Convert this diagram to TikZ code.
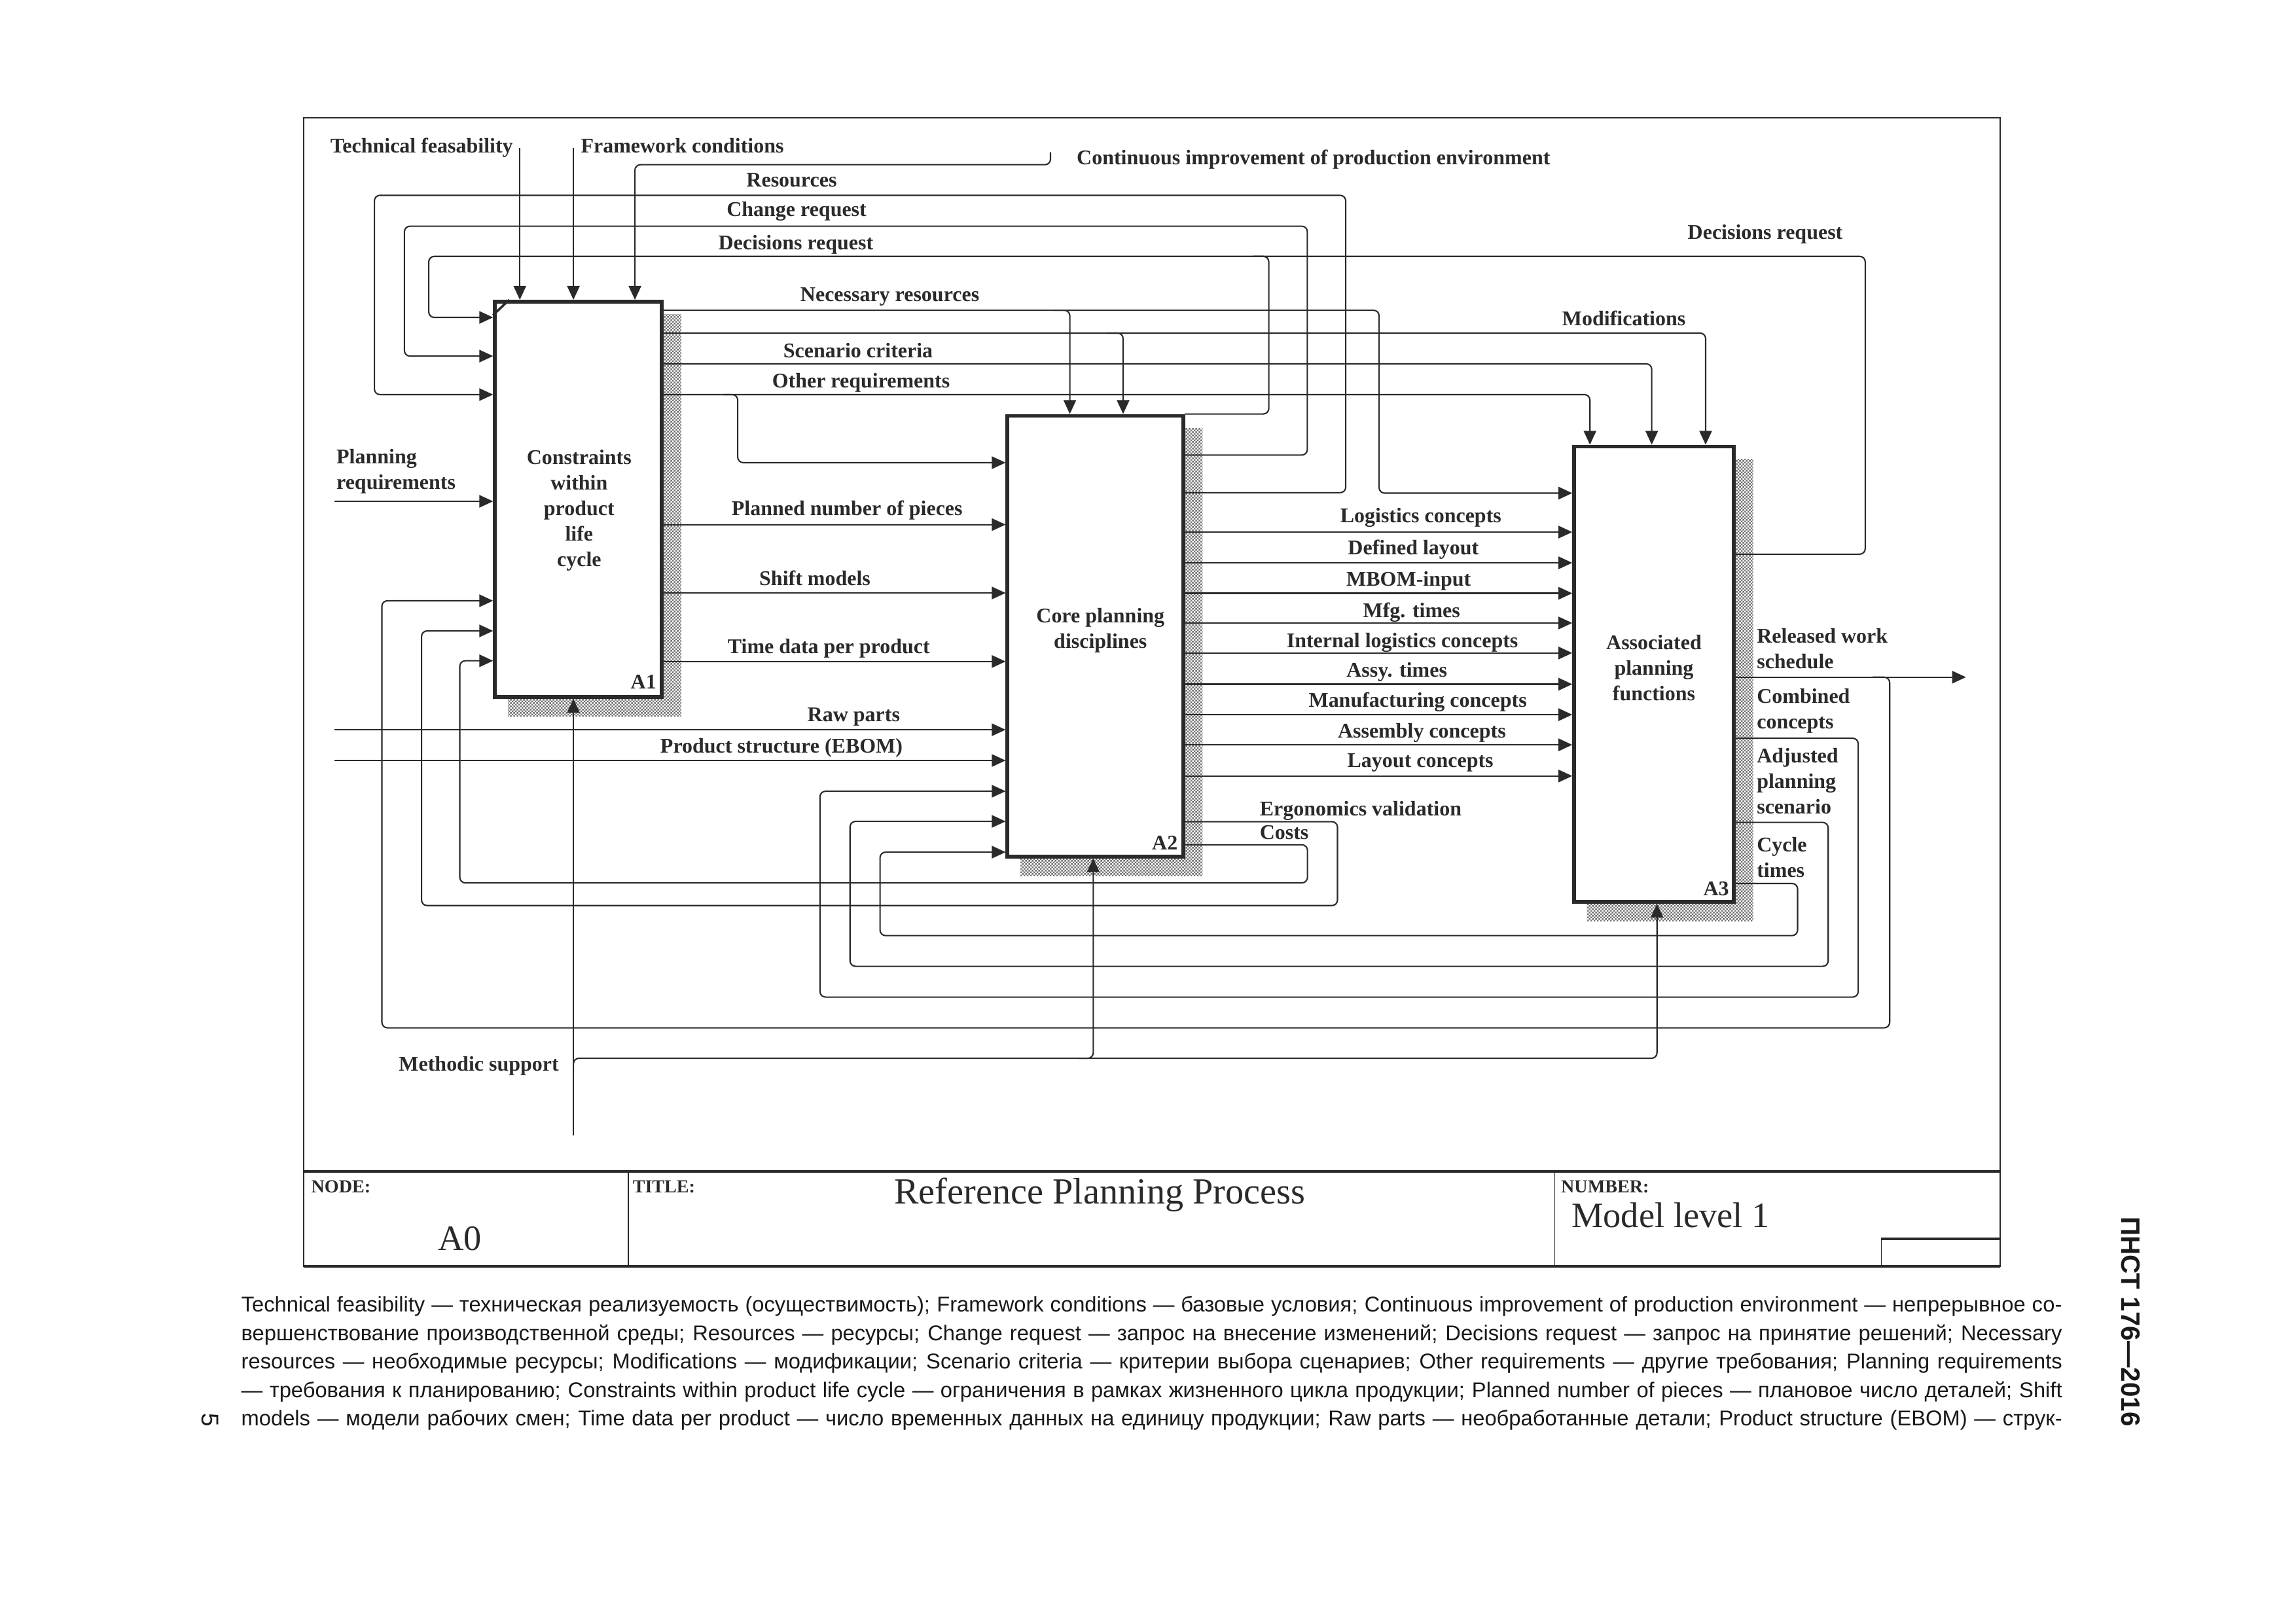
\documentclass[tikz,border=0pt]{standalone}
\usepackage{fontspec}
\setmainfont{Liberation Serif}
\newfontfamily\notefont{Liberation Sans}
\usepackage{tikz}
\usetikzlibrary{arrows.meta, fit, backgrounds, patterns}
\definecolor{ink}{HTML}{2A2A2A}
\pgfdeclarepatternformonly{checker}{\pgfqpoint{0pt}{0pt}}{\pgfqpoint{1.4pt}{1.4pt}}{\pgfqpoint{1.4pt}{1.4pt}}{%
  \pgfpathrectangle{\pgfqpoint{0pt}{0pt}}{\pgfqpoint{0.7pt}{0.7pt}}%
  \pgfpathrectangle{\pgfqpoint{0.7pt}{0.7pt}}{\pgfqpoint{0.7pt}{0.7pt}}%
  \pgfusepath{fill}}
\newcommand{\lblfont}{\bfseries\fontsize{9.1}{11.1}\selectfont}
\tikzstyle{flow}=[draw=ink,line width=0.6pt,rounded corners=2.4pt]
\tikzstyle{arrow}=[flow,-{Triangle[length=6pt,width=5.4pt]}]
\tikzstyle{procbox}=[draw=ink,line width=1.6pt,fill=white,inner sep=0pt]
\tikzstyle{shade}=[pattern=checker,pattern color=black!55]
\tikzstyle{lbl}=[font=\lblfont,text=ink,inner sep=0pt,text height=1.6ex,text depth=0.4ex]
\tikzstyle{mlbl}=[font=\lblfont,text=ink,inner sep=0pt,align=left,anchor=west]
\tikzstyle{btext}=[font=\lblfont,text=ink,inner sep=0pt,align=center]
\tikzstyle{note}=[font=\notefont\fontsize{9.3}{12.35}\selectfont,text=black!90,inner sep=0pt,anchor=base west]

\begin{document}
\begin{tikzpicture}[x=0.22372mm,y=-0.22372mm]
    \useasboundingbox (0,0) rectangle (1568,1108.5);

    % activity boxes
    \node[procbox,fit={(338,206)(452,476)}] (A1) {};
    \node[procbox,fit={(688,284)(808,585)}] (A2) {};
    \node[procbox,fit={(1075,305)(1184,616)}] (A3) {};

    \begin{scope}[on background layer]
        \fill[white] (0,0) rectangle (1568,1108.5);
        \fill[shade] ([shift={(10,10)}]A1.north west) rectangle ([shift={(12,12)}]A1.south east);
        \fill[shade] ([shift={(10,10)}]A2.north west) rectangle ([shift={(12,12)}]A2.south east);
        \fill[shade] ([shift={(10,10)}]A3.north west) rectangle ([shift={(12,12)}]A3.south east);
    \end{scope}
    \draw[ink,line width=1pt] (A1.north west) ++(0,10.5) -- ++(11,-10.5);

    \node[btext] (A1txt) at (395.5,348.5) {Constraints\\within\\product\\life\\cycle};
    \node[btext] (A2txt) at (751.5,430.5) {Core planning\\disciplines};
    \node[btext] (A3txt) at (1129.5,456) {Associated\\planning\\functions};
    \node[lbl] (A1no) at (439.5,466) {A1};
    \node[lbl] (A2no) at (795.5,576) {A2};
    \node[lbl] (A3no) at (1172,607.5) {A3};

    % frame and title block
    \draw[ink,line width=0.7pt] (207.4,80.5) rectangle (1366,865);
    \draw[ink,line width=1pt] (207.4,800.1) -- (1366,800.1);
    \draw[ink,line width=1pt] (207.4,865) -- (1366,865);
    \draw[ink,line width=0.4pt] (429.1,800.1) -- (429.1,865);
    \draw[ink,line width=0.4pt] (1061.9,800.1) -- (1061.9,865);
    \draw[ink,line width=1pt] (1284.7,846.2) -- (1366,846.2);
    \draw[ink,line width=0.4pt] (1284.7,846.2) -- (1284.7,865);
    \node[font=\bfseries\fontsize{8}{10}\selectfont,text=ink,inner sep=0pt,anchor=north west] (nodehd) at (212.3,806) {NODE:};
    \node[font=\bfseries\fontsize{8}{10}\selectfont,text=ink,inner sep=0pt,anchor=north west] (titlehd) at (431.8,806) {TITLE:};
    \node[font=\bfseries\fontsize{8}{10}\selectfont,text=ink,inner sep=0pt,anchor=north west] (numhd) at (1065.8,806) {NUMBER:};
    \node[font=\fontsize{15.5}{18}\selectfont,text=ink,inner sep=0pt] (nodeval) at (314,846) {A0};
    \node[font=\fontsize{16}{19}\selectfont,text=ink,inner sep=0pt] (titleval) at (751,816) {Reference Planning Process};
    \node[font=\fontsize{15.5}{18}\selectfont,text=ink,inner sep=0pt,anchor=west] (numval) at (1073,830) {Model level 1};

    % free ends
    \coordinate (techin) at (355,101);
    \coordinate (frameworkin) at (391.6,101);
    \coordinate (contin) at (717.4,104);
    \coordinate (planin) at (228.5,342.4);
    \coordinate (rawin) at (228.5,498.4);
    \coordinate (ebomin) at (228.5,519.4);
    \coordinate (methin) at (391.6,775.5);
    \coordinate (relout) at (1342.6,462.5);

    % controls and inputs of A1
    \draw[arrow] (techin) -- (techin |- A1.north);
    \draw[arrow] (frameworkin) -- (frameworkin |- A1.north);
    \draw[arrow] (contin) |- (433.6,112.5) -- (433.6,0 |- A1.north);
    \draw[arrow] (planin) -- (A1.west |- planin);
    \draw[arrow] (A2.east |- 0,336.5) -| (919,133.4) -| (255.7,269.5) -- (A1.west |- 0,269.5);
    \draw[arrow] (A2.east |- 0,310.8) -| (892.8,154.5) -| (276.2,243.2) -- (A1.west |- 0,243.2);
    \draw[arrow] (A3.east |- 0,378.5) -| (1273.8,175.1) -| (292.8,216.8) -- (A1.west |- 0,216.8);
    \draw[flow] (A2.north east) -| (866.5,175.1) -- (856,175.1);

    % outputs of A1
    \draw[arrow] (A1.east |- 0,211.9) -| (941.8,336.8) -- (A3.west |- 0,336.8);
    \draw[arrow] (720,211.9) -| (730.6,0 |- A2.north);
    \draw[arrow] (A1.east |- 0,227.5) -| (1164.8,0 |- A3.north);
    \draw[arrow] (756,227.5) -| (767,0 |- A2.north);
    \draw[arrow] (A1.east |- 0,248.5) -| (1128,0 |- A3.north);
    \draw[arrow] (A1.east |- 0,269.5) -| (1085.8,0 |- A3.north);
    \draw[arrow] (494,269.5) -| (503.8,316) -- (A2.west |- 0,316);
    \draw[arrow] (A1.east |- 0,358.3) -- (A2.west |- 0,358.3);
    \draw[arrow] (A1.east |- 0,405) -- (A2.west |- 0,405);
    \draw[arrow] (A1.east |- 0,451.8) -- (A2.west |- 0,451.8);
    \draw[arrow] (rawin) -- (A2.west |- rawin);
    \draw[arrow] (ebomin) -- (A2.west |- ebomin);

    % A2 to A3
    \foreach \y in {363.4,384.4,405.2,425.5,446,467.3,488.1,508.7,530}
        \draw[arrow] (A2.east |- 0,\y) -- (A3.west |- 0,\y);

    % feedback
    \draw[arrow] (A2.east |- 0,561.2) -| (913.4,618.5) -| (287.9,430.9) -- (A1.west |- 0,430.9);
    \draw[arrow] (A2.east |- 0,577) -| (892.9,603) -| (314,451.3) -- (A1.west |- 0,451.3);
    \draw[arrow] (A3.east |- relout) -- (relout);
    \draw[arrow] (1279,462.5) -| (1290.5,702) -| (260.8,410.3) -- (A1.west |- 0,410.3);
    \draw[arrow] (A3.east |- 0,504.2) -| (1269,681) -| (560,540.4) -- (A2.west |- 0,540.4);
    \draw[arrow] (A3.east |- 0,561.7) -| (1248.5,660) -| (580.5,561) -- (A2.west |- 0,561);
    \draw[arrow] (A3.east |- 0,603.4) -| (1227.6,639) -| (601,582) -- (A2.west |- 0,582);

    % mechanism
    \draw[arrow] (methin) -- (methin |- A1.south);
    \draw[arrow] (391.6,732) |- (1131.6,722.8) -- (1131.6,0 |- A3.south);
    \draw[arrow] (736,722.8) -| (746.6,0 |- A2.south);

    % arrow labels
    \node[lbl] (techlbl) at (288,100) {Technical feasability};
    \node[lbl] (frameworklbl) at (466,100) {Framework conditions};
    \node[lbl] (contlbl) at (897,108) {Continuous improvement of production environment};
    \node[lbl] (reslbl) at (540.6,123.3) {Resources};
    \node[lbl] (changelbl) at (544,143.6) {Change request};
    \node[lbl] (declbl) at (543.5,166) {Decisions request};
    \node[lbl] (decrlbl) at (1205.5,159) {Decisions request};
    \node[lbl] (needlbl) at (607.7,201.5) {Necessary resources};
    \node[lbl] (modlbl) at (1109,218) {Modifications};
    \node[lbl] (scenlbl) at (586,240) {Scenario criteria};
    \node[lbl] (otherlbl) at (588,260.7) {Other requirements};
    \node[mlbl] (planlbl) at (229.5,322) {Planning\\requirements};
    \node[lbl] (pieceslbl) at (578.5,347.5) {Planned number of pieces};
    \node[lbl] (shiftlbl) at (556.5,395.4) {Shift models};
    \node[lbl] (timelbl) at (566,441.8) {Time data per product};
    \node[lbl] (rawlbl) at (583,488.5) {Raw parts};
    \node[lbl] (ebomlbl) at (533.7,510) {Product structure (EBOM)};
    \node[lbl] (logilbl) at (970.3,352.6) {Logistics concepts};
    \node[lbl] (layoutlbl) at (965.2,374.3) {Defined layout};
    \node[lbl] (mbomlbl) at (962,396) {MBOM-input};
    \node[lbl] (mfglbl) at (964,417.6) {Mfg. times};
    \node[lbl] (intlbl) at (957.7,438.1) {Internal logistics concepts};
    \node[lbl] (assylbl) at (953.9,457.9) {Assy. times};
    \node[lbl] (manulbl) at (968.2,478.5) {Manufacturing concepts};
    \node[lbl] (assemlbl) at (971,499.7) {Assembly concepts};
    \node[lbl] (layconlbl) at (970,519.7) {Layout concepts};
    \node[lbl,anchor=west] (ergolbl) at (860,552.7) {Ergonomics validation};
    \node[lbl,anchor=west] (costlbl) at (860,569) {Costs};
    \node[mlbl] (rellbl) at (1199.5,443) {Released work\\schedule};
    \node[mlbl] (comblbl) at (1199.5,485.5) {Combined\\concepts};
    \node[mlbl] (adjlbl) at (1199.5,533.5) {Adjusted\\planning\\scenario};
    \node[mlbl] (cyclbl) at (1199.5,585.5) {Cycle\\times};
    \node[lbl] (methlbl) at (327,727) {Methodic support};

    % page text
    \node[note] (note1) at (164.5,896) {\makebox[278.2mm][s]{Technical feasibility — техническая реализуемость (осуществимость); Framework conditions — базовые условия; Continuous improvement of production environment — непрерывное со-}};
    \node[note] (note2) at (164.5,915.5) {\makebox[278.2mm][s]{вершенствование производственной среды; Resources — ресурсы; Change request — запрос на внесение изменений; Decisions request — запрос на принятие решений; Necessary}};
    \node[note] (note3) at (164.5,934.9) {\makebox[278.2mm][s]{resources — необходимые ресурсы; Modifications — модификации; Scenario criteria — критерии выбора сценариев; Other requirements — другие требования; Planning requirements}};
    \node[note] (note4) at (164.5,954.3) {\makebox[278.2mm][s]{— требования к планированию; Constraints within product life cycle — ограничения в рамках жизненного цикла продукции; Planned number of pieces — плановое число деталей; Shift}};
    \node[note] (note5) at (164.5,973.7) {\makebox[278.2mm][s]{models — модели рабочих смен; Time data per product — число временных данных на единицу продукции; Raw parts — необработанные детали; Product structure (EBOM) — струк-}};
    \node[rotate=-90,font=\notefont\bfseries\fontsize{11.5}{13}\selectfont,text=black!90,inner sep=0pt] (stdno) at (1455.3,902.7) {ПНСТ 176—2016};
    \node[rotate=-90,font=\notefont\fontsize{10.5}{12}\selectfont,text=black!90,inner sep=0pt] (pageno) at (143.7,970) {5};
\end{tikzpicture}
\end{document}
